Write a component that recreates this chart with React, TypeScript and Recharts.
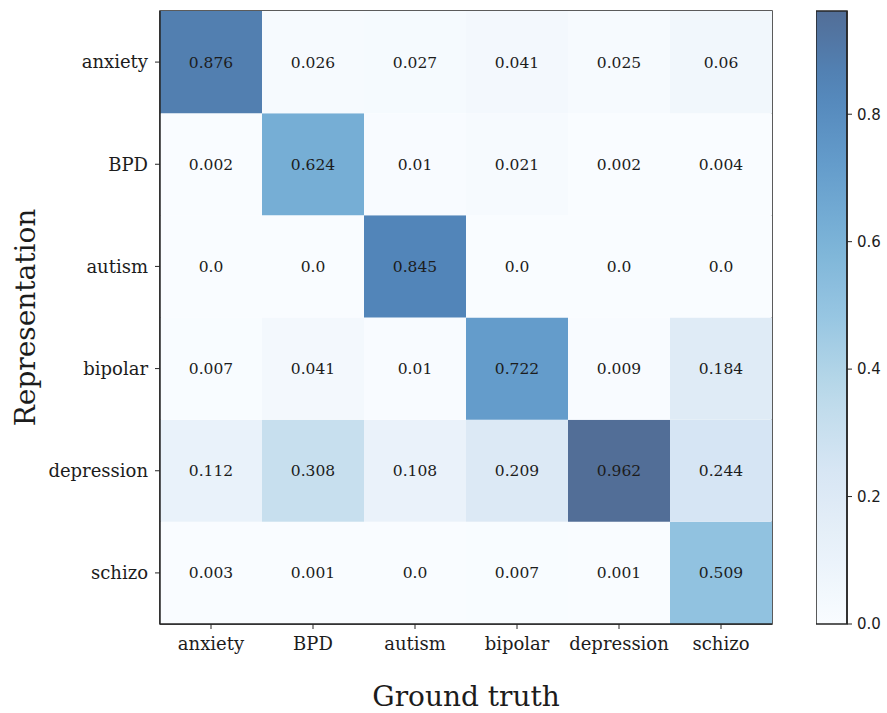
import React from 'react';
import { BarChart, Bar, XAxis, YAxis, Cell, LabelList, Label, ReferenceArea } from 'recharts';

// Category labels (ground truth on x, representation on y, top to bottom)
const CLASSES = ['anxiety', 'BPD', 'autism', 'bipolar', 'depression', 'schizo'];

// One array per representation row, values per ground-truth column
const anxietyRow = [0.876, 0.026, 0.027, 0.041, 0.025, 0.06];
const bpdRow = [0.002, 0.624, 0.01, 0.021, 0.002, 0.004];
const autismRow = [0.0, 0.0, 0.845, 0.0, 0.0, 0.0];
const bipolarRow = [0.007, 0.041, 0.01, 0.722, 0.009, 0.184];
const depressionRow = [0.112, 0.308, 0.108, 0.209, 0.962, 0.244];
const schizoRow = [0.003, 0.001, 0.0, 0.007, 0.001, 0.509];

const ROWS = [anxietyRow, bpdRow, autismRow, bipolarRow, depressionRow, schizoRow];

const COLORBAR_TICKS = [0, 0.2, 0.4, 0.6, 0.8];

const VMAX = Math.max(...ROWS.flat());

// Blues colormap anchors, composited at 0.7 alpha on white
const BLUES = ['#f7fbff', '#deebf7', '#c6dbef', '#9ecae1', '#6baed6', '#4292c6', '#2171b5', '#08519c', '#08306b'];
const ALPHA = 0.7;

const hexToRgb = (h: string) => [1, 3, 5].map((i) => parseInt(h.slice(i, i + 2), 16));

function colorFor(v: number): string {
  const t = Math.max(0, Math.min(1, v / VMAX)) * (BLUES.length - 1);
  const i = Math.min(Math.floor(t), BLUES.length - 2);
  const f = t - i;
  const a = hexToRgb(BLUES[i]);
  const b = hexToRgb(BLUES[i + 1]);
  const rgb = a.map((c, k) => c + (b[k] - c) * f).map((c) => Math.round(ALPHA * c + (1 - ALPHA) * 255));
  return `rgb(${rgb[0]},${rgb[1]},${rgb[2]})`;
}

const fmt = (v: any) => (Number(v) === 0 ? '0.0' : String(v));

// Each ground-truth column holds one unit-tall stacked segment per representation row
const heatData = CLASSES.map((gt, c) => {
  const item: Record<string, any> = { gt };
  CLASSES.forEach((rep, r) => {
    item[`span_${rep}`] = 1;
    item[`val_${rep}`] = ROWS[r][c];
  });
  return item;
});

const STACK_ORDER = CLASSES.map((rep, r) => ({ rep, r })).reverse();

const Y_TICKS = [0.5, 1.5, 2.5, 3.5, 4.5, 5.5];

const SERIF = 'DejaVu Serif';
const FRAME = '#262626';
const INK = '#1c1c1c';

const renderYTitle = (props: any) => {
  const vb = props.viewBox;
  const x = vb.x + 25;
  const y = vb.y + vb.height / 2;
  return (
    <text x={x} y={y} transform={`rotate(-90, ${x}, ${y})`} textAnchor="middle" dominantBaseline="central"
      fontFamily={SERIF} fontSize={28} fill={INK}>
      Representation
    </text>
  );
};

const renderXTitle = (props: any) => {
  const vb = props.viewBox;
  return (
    <text x={vb.x + vb.width / 2} y={vb.y + 82} textAnchor="middle" fontFamily={SERIF} fontSize={28} fill={INK}>
      Ground truth
    </text>
  );
};

const colorbarData = [{ name: 'scale', top: VMAX }];
const GRADIENT_STEPS = Array.from({ length: 21 }, (_, k) => k / 20);

export default function App() {
  return (
    <div style={{ position: 'absolute', left: 0, top: 0, width: 887, height: 713, background: '#fff' }}>
      <div style={{ position: 'absolute', left: 0, top: 0 }}>
        <BarChart width={800} height={713} data={heatData} margin={{ top: 11, right: 28, bottom: 0, left: 0 }}
          barCategoryGap={0} barGap={0}>
          <XAxis dataKey="gt" type="category" height={89} tickSize={5} tickMargin={8}
            tick={{ fontFamily: SERIF, fontSize: 18, fill: INK }}
            tickLine={{ stroke: FRAME }} axisLine={{ stroke: FRAME, strokeWidth: 1.5 }}>
            <Label content={renderXTitle} />
          </XAxis>
          <YAxis type="number" domain={[0, 6]} ticks={Y_TICKS} width={160} tickSize={5} tickMargin={7}
            tickFormatter={(v: number) => CLASSES[5 - Math.floor(v)]}
            tick={{ fontFamily: SERIF, fontSize: 18, fill: INK }}
            tickLine={{ stroke: FRAME }} axisLine={{ stroke: FRAME, strokeWidth: 1.5 }}>
            <Label content={renderYTitle} />
          </YAxis>
          {STACK_ORDER.map(({ rep, r }) => (
            <Bar key={rep} dataKey={`span_${rep}`} stackId="m" isAnimationActive={false}>
              {heatData.map((_, c) => (
                <Cell key={c} fill={colorFor(ROWS[r][c])} />
              ))}
              <LabelList dataKey={`val_${rep}`} position="center" formatter={fmt}
                fill={INK} fontSize={15.5} fontFamily={SERIF} />
            </Bar>
          ))}
          <ReferenceArea y1={0} y2={6} fill="none" fillOpacity={0} stroke={FRAME} strokeWidth={1.5}
            ifOverflow="visible" />
        </BarChart>
      </div>
      <div style={{ position: 'absolute', left: 816, top: 0 }}>
        <BarChart width={71} height={713} data={colorbarData} margin={{ top: 11, right: 0, bottom: 89, left: 0 }}
          barCategoryGap={0}>
          <defs>
            <linearGradient id="cbGrad" x1="0" y1="1" x2="0" y2="0">
              {GRADIENT_STEPS.map((t) => (
                <stop key={t} offset={`${t * 100}%`} stopColor={colorFor(t * VMAX)} />
              ))}
            </linearGradient>
          </defs>
          <XAxis dataKey="name" hide />
          <YAxis yAxisId="r" orientation="right" type="number" domain={[0, VMAX]} ticks={COLORBAR_TICKS}
            width={40} tickSize={5} tickMargin={5} tickFormatter={(v: number) => v.toFixed(1)}
            tick={{ fontFamily: 'DejaVu Sans', fontSize: 15, fill: INK }}
            tickLine={{ stroke: FRAME }} axisLine={{ stroke: FRAME, strokeWidth: 1.5 }} />
          <Bar dataKey="top" yAxisId="r" fill="url(#cbGrad)" stroke={FRAME} strokeWidth={1.5}
            isAnimationActive={false} />
        </BarChart>
      </div>
    </div>
  );
}
